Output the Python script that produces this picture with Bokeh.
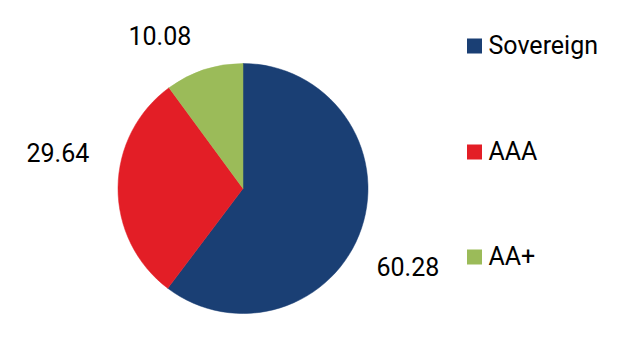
import math
from bokeh.plotting import figure
from bokeh.models import ColumnDataSource, Range1d
from bokeh.core.properties import value
from bokeh.embed import file_html
from bokeh.resources import INLINE

# ---- data ----
categories = ["Sovereign", "AAA", "AA+"]
values = [60.28, 29.64, 10.08]
labels = ["60.28", "29.64", "10.08"]
colors = ["#1A3F74", "#E31E26", "#9BBB59"]

# ---- layout (pixels, top-left origin) ----
W, H = 631, 361
CX, CY, R = 242.5, 188, 125
label_pos = [(376, 274), (26, 160), (128, 43)]   # left x, baseline y
legend_sq_x = 474
legend_text_x = 488
legend_baseline = [53, 159, 264]
TEXT_SHIFT = 8
FONT = value("Roboto")

def fy(y):
    return H - y

total = sum(values)
starts, ends = [], []
cum = 0.0
for v in values:
    starts.append(math.pi / 2 - cum / total * 2 * math.pi)
    cum += v
    ends.append(math.pi / 2 - cum / total * 2 * math.pi)

p = figure(width=W, height=H, output_backend="svg", toolbar_location=None,
           x_range=Range1d(0, W), y_range=Range1d(0, H), min_border=0)
p.axis.visible = False
p.grid.visible = False
p.outline_line_color = None
p.background_fill_color = "white"
p.border_fill_color = "white"

src = ColumnDataSource(dict(start=starts, end=ends, color=colors))
p.wedge(x=CX, y=fy(CY), radius=R, start_angle="start", end_angle="end",
        direction="clock", fill_color="color", line_color="color", line_width=0.5,
        source=src)

# value labels
p.text(x=[lp[0] for lp in label_pos], y=[fy(lp[1] - TEXT_SHIFT) for lp in label_pos], text=labels,
       text_font=FONT, text_font_size="25px", text_color="#000000",
       text_align="left", text_baseline="alphabetic")

# legend
p.rect(x=[legend_sq_x] * 3, y=[fy(b - 7.5) for b in legend_baseline], width=15, height=15,
       fill_color=colors, line_color=None)
p.text(x=[legend_text_x] * 3, y=[fy(b - TEXT_SHIFT) for b in legend_baseline], text=categories,
       text_font=FONT, text_font_size="25px", text_color="#000000",
       text_align="left", text_baseline="alphabetic")

open("out.html", "w").write(file_html(p, INLINE))
